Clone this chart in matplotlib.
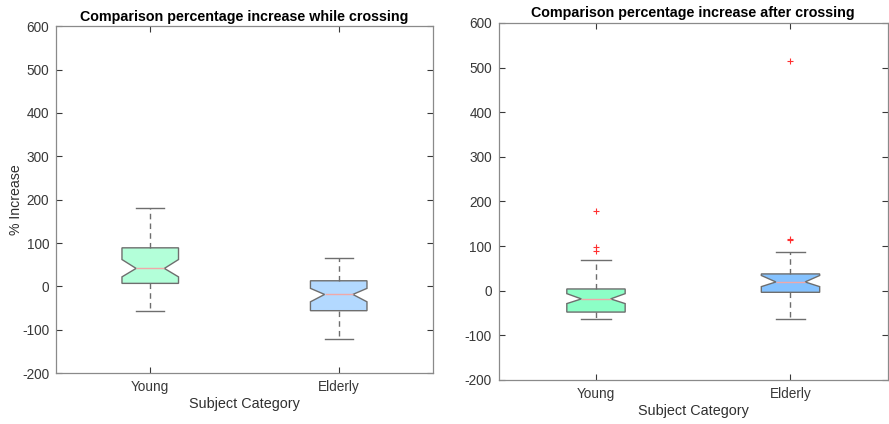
import matplotlib
matplotlib.use("Agg")
import matplotlib.pyplot as plt

plt.rcParams['font.family'] = ['Liberation Sans', 'DejaVu Sans']
plt.rcParams['axes.unicode_minus'] = False

# categories and tick labels
categories = ['Young', 'Elderly']
yticks = [-200, -100, 0, 100, 200, 300, 400, 500, 600]

# box statistics: while crossing
while_med = [41.5, -18.5]
while_q1 = [7, -56]
while_q3 = [89, 13]
while_lo = [-57, -122]
while_hi = [182, 66]
while_cilo = [22, -35.5]
while_cihi = [62, -4.5]
while_fliers = [[], []]

# after crossing
after_med = [-18.5, 19.5]
after_q1 = [-48, -3.7]
after_q3 = [3.8, 37.5]
after_lo = [-64, -63]
after_hi = [69, 87.5]
after_cilo = [-29, 9]
after_cihi = [-6.7, 34]
after_fliers = [[178, 97, 89.6], [514, 115.5, 114]]

colors_left = ['#b3ffd9', '#b3d9ff']
colors_right = ['#8cffc6', '#85c2ff']


def make_stats(med, q1, q3, lo, hi, cilo, cihi, fliers):
    stats = []
    for i in range(len(categories)):
        stats.append({'med': med[i], 'q1': q1[i], 'q3': q3[i],
                      'whislo': lo[i], 'whishi': hi[i],
                      'cilo': cilo[i], 'cihi': cihi[i],
                      'fliers': fliers[i], 'label': categories[i]})
    return stats


def draw(ax, stats, colors, title):
    bp = ax.bxp(stats, positions=[1, 2], widths=0.3, shownotches=True,
                patch_artist=True,
                boxprops=dict(edgecolor='#6e6e6e', linewidth=1.0),
                medianprops=dict(color='#f0a8a8', linewidth=1.0),
                whiskerprops=dict(color='#6e6e6e', linestyle=(0, (4, 3)), linewidth=1.0),
                capprops=dict(color='#6e6e6e', linewidth=1.0),
                flierprops=dict(marker='+', markeredgecolor='#ff3030',
                                markersize=5, linestyle='none', markeredgewidth=0.8))
    for patch, c in zip(bp['boxes'], colors):
        patch.set_facecolor(c)
    ax.set_xlim(0.5, 2.5)
    ax.set_ylim(-200, 600)
    ax.set_yticks(yticks)
    ax.set_xticks([1, 2])
    ax.set_xticklabels(categories)
    ax.tick_params(direction='in', top=True, right=True, length=4,
                   labelsize=9.8, colors='#383838', width=0.8, pad=5)
    for s in ax.spines.values():
        s.set_color('#8a8a8a')
        s.set_linewidth(0.9)
    ax.set_title(title, fontsize=10.3, fontweight='bold', pad=4)
    ax.set_xlabel('Subject Category', fontsize=10.4, color='#303030', labelpad=2)


fig = plt.figure(figsize=(8.89, 4.24), dpi=100)
ax1 = fig.add_axes([0.063, 0.120, 0.424, 0.818])
ax2 = fig.add_axes([0.561, 0.104, 0.4376, 0.842])

draw(ax1, make_stats(while_med, while_q1, while_q3, while_lo, while_hi,
                     while_cilo, while_cihi, while_fliers),
     colors_left, 'Comparison percentage increase while crossing')
ax1.set_ylabel('% Increase', fontsize=10.2, color='#303030', labelpad=-1)

draw(ax2, make_stats(after_med, after_q1, after_q3, after_lo, after_hi,
                     after_cilo, after_cihi, after_fliers),
     colors_right, 'Comparison percentage increase after crossing')

fig.savefig('out.png', dpi=100)
